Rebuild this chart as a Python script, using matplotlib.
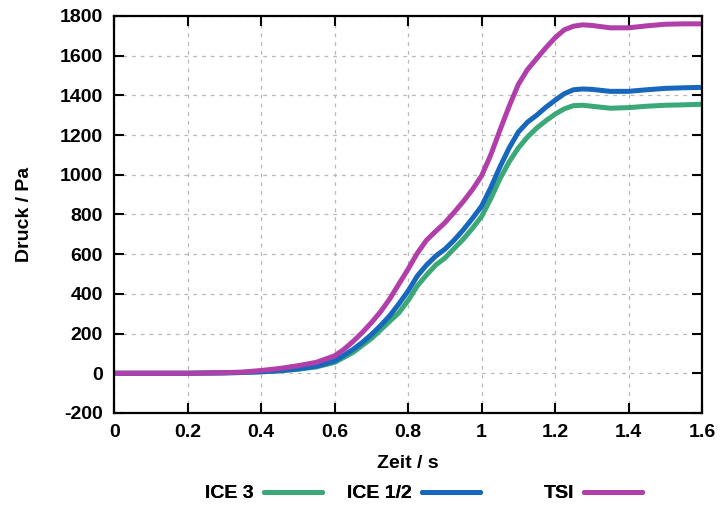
import numpy as np
import matplotlib.pyplot as plt

plt.rcParams['font.family'] = ['Liberation Sans', 'DejaVu Sans']
plt.rcParams['font.weight'] = 'bold'
plt.rcParams['axes.unicode_minus'] = False

# Zeit in s
zeit = [0.0, 0.1, 0.2, 0.3, 0.35, 0.4, 0.45, 0.5, 0.55, 0.6, 0.625, 0.65, 0.675,
        0.7, 0.725, 0.75, 0.775, 0.8, 0.825, 0.85, 0.875, 0.9, 0.925, 0.95, 0.975,
        1.0, 1.025, 1.05, 1.075, 1.1, 1.125, 1.15, 1.175, 1.2, 1.225, 1.25, 1.275,
        1.3, 1.35, 1.4, 1.45, 1.5, 1.55, 1.6]

# Druck in Pa
ice3 = [0, 0, 0, 2, 4, 7, 12, 20, 32, 55, 80, 105, 140,
        175, 218, 262, 305, 367, 440, 495, 545, 580, 628, 675, 730,
        790, 880, 980, 1065, 1135, 1190, 1235, 1272, 1305, 1332, 1348, 1350,
        1345, 1335, 1338, 1345, 1350, 1352, 1355]
ice12 = [0, 0, 0, 2, 4, 8, 13, 22, 35, 62, 90, 120, 155,
         195, 240, 290, 350, 415, 490, 545, 590, 625, 670, 722, 780,
         842, 935, 1040, 1135, 1215, 1265, 1300, 1340, 1375, 1408, 1428, 1432,
         1430, 1420, 1420, 1428, 1435, 1438, 1440]
tsi = [0, 0, 0, 3, 6, 14, 24, 38, 55, 88, 120, 160, 205,
       255, 310, 375, 450, 525, 605, 670, 715, 758, 810, 865, 925,
       995, 1100, 1225, 1345, 1455, 1530, 1585, 1640, 1690, 1730, 1748, 1755,
       1752, 1740, 1740, 1750, 1758, 1760, 1760]

fig = plt.figure(figsize=(7.23, 5.13), dpi=100)
ax = fig.add_axes([0.158, 0.195, 0.813, 0.774])

linien = []
for vals, col, lab in [(ice3, '#3aa877', 'ICE 3'),
                       (ice12, '#1768bd', 'ICE 1/2'),
                       (tsi, '#b13ea9', 'TSI')]:
    l, = ax.plot(zeit, vals, color=col, lw=3.6, label=lab,
                 solid_joinstyle='round', solid_capstyle='round')
    linien.append(l)

ax.set_xlim(0, 1.6)
ax.set_ylim(-200, 1800)
ax.set_xticks(np.arange(0, 1.61, 0.2))
ax.set_xticklabels(['0', '0.2', '0.4', '0.6', '0.8', '1', '1.2', '1.4', '1.6'])
ax.set_yticks(np.arange(-200, 1801, 200))
ax.tick_params(direction='in', length=7, width=1.5, top=True, right=True,
               labelsize=14, pad=8)
ax.grid(True, color='#b8b8b8', linestyle=(0, (3, 4)), lw=0.9)
for s in ax.spines.values():
    s.set_linewidth(1.6)

ax.set_xlabel('Zeit / s', fontsize=14, fontweight='bold', labelpad=10)
ax.set_ylabel('Druck / Pa', fontsize=14, fontweight='bold', labelpad=19)

# legende wie bei gnuplot: text links, linie rechts, ungleiche abstaende
legend_x = [322 / 723, 480 / 723, 642 / 723]
for l, xr in zip(linien, legend_x):
    lg = fig.legend(handles=[l], loc='center right', bbox_to_anchor=(xr, 0.038),
                    frameon=False, markerfirst=False, fontsize=14,
                    handlelength=3.0, handletextpad=0.5, borderpad=0,
                    borderaxespad=0)
    fig.add_artist(lg)

plt.savefig('out.png', dpi=100)
